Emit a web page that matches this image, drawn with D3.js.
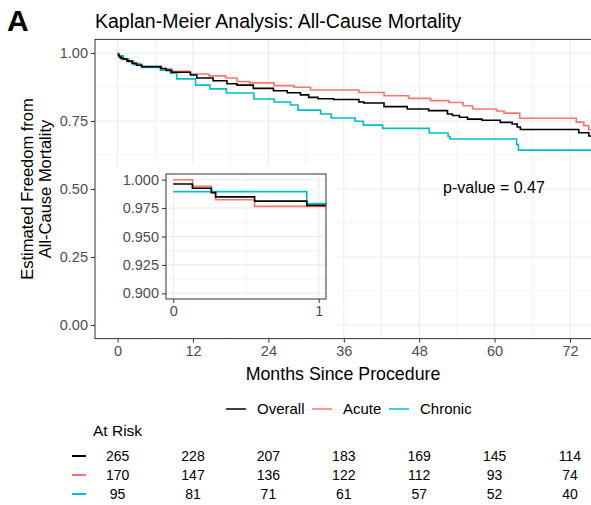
<!DOCTYPE html>
<html><head><meta charset="utf-8">
<script src="https://cdn.jsdelivr.net/npm/d3@7/dist/d3.min.js"></script>
<style>body{margin:0;background:#fff;} svg{display:block;font-family:"Liberation Sans",Arial,sans-serif;}</style>
</head><body>
<script>
// ---- data ----
const seriesNames = ["Overall", "Acute", "Chronic"];
const seriesColors = ["#000000", "#F8766D", "#00BFC4"];
const xTicks = [0, 12, 24, 36, 48, 60, 72];
const yTicks = [0, 0.25, 0.5, 0.75, 1.0];
const insetYTicks = [0.900, 0.925, 0.950, 0.975, 1.000];
const insetXTicks = [0, 1];
const overall = [[0,0.9962],[0.132,0.9925],[0.262,0.9887],[0.291,0.9849],[0.559,0.9811],[0.918,0.9774],
 [1.5,0.970],[2.3,0.962],[3.0,0.955],[3.8,0.950],[6.9,0.943],[7.7,0.936],[8.6,0.929],[11.6,0.919],[12.6,0.908],
 [15.2,0.898],[17.4,0.887],[19.0,0.882],[21.6,0.870],[24.8,0.861],[27.0,0.854],[29.1,0.846],[30.4,0.837],
 [31.9,0.832],[34.4,0.829],[38.4,0.820],[39.2,0.816],[42.4,0.803],[46.1,0.794],[49.5,0.788],[52.5,0.776],
 [53.3,0.770],[54.4,0.764],[55.7,0.757],[58.0,0.753],[60.9,0.745],[62.8,0.739],[63.6,0.728],[64.1,0.719],
 [73.4,0.707],[75.0,0.695],[76,0.695]];
const acute = [[0,1.0],[0.132,0.9941],[0.262,0.9882],[0.291,0.9824],[0.559,0.9765],
 [1.8,0.970],[2.6,0.962],[3.5,0.955],[3.9,0.949],[7.0,0.942],[8.6,0.933],[11.5,0.923],[14.5,0.916],[17.2,0.908],
 [19.0,0.895],[21.0,0.890],[24.9,0.880],[28.1,0.874],[30.7,0.864],[38.4,0.855],[42.4,0.843],[46.3,0.833],
 [49.8,0.825],[52.7,0.818],[55.0,0.806],[56.5,0.794],[60.3,0.787],[61.5,0.779],[64.0,0.760],[73.0,0.746],
 [74.2,0.733],[75.0,0.718],[76,0.718]];
const chronic = [[0,0.9895],[0.918,0.9789],[1.7,0.968],[2.5,0.958],[3.9,0.947],[6.8,0.937],[8.4,0.926],
 [9.4,0.905],[12.4,0.882],[14.7,0.868],[17.3,0.853],[21.7,0.831],[24.9,0.820],[27.5,0.809],[28.7,0.790],
 [32.3,0.776],[34.0,0.761],[37.8,0.749],[39.1,0.735],[42.2,0.723],[49.6,0.706],[52.6,0.693],[52.9,0.684],
 [63.5,0.663],[63.8,0.643],[76,0.643]];
const seriesData = [overall, acute, chronic];
const atRiskOverall = [265, 228, 207, 183, 169, 145, 114];
const atRiskAcute = [170, 147, 136, 122, 112, 93, 74];
const atRiskChronic = [95, 81, 71, 61, 57, 52, 40];
const atRisk = [atRiskOverall, atRiskAcute, atRiskChronic];

// ---- layout ----
const W = 591, H = 505;
const P = {l: 95, r: 592.6, t: 39.4, b: 338.6};
const svg = d3.select("body").append("svg").attr("width", W).attr("height", H);
const x = d3.scaleLinear().domain([-3.6, 75.6]).range([P.l, P.r]);
const y = d3.scaleLinear().domain([-0.05, 1.05]).range([P.b, P.t]);
const grid = "#EBEBEB", tickCol = "#333333", labCol = "#4D4D4D";

svg.append("defs").append("clipPath").attr("id","mainclip").append("rect")
  .attr("x",P.l).attr("y",P.t).attr("width",P.r-P.l).attr("height",P.b-P.t);

// grid
const gx = svg.append("g");
const xMinor = d3.range(6, 72, 12);
gx.selectAll(".xm").data(xMinor).join("line").attr("x1",d=>x(d)).attr("x2",d=>x(d)).attr("y1",P.t).attr("y2",P.b).attr("stroke",grid).attr("stroke-width",0.6);
gx.selectAll(".xM").data(xTicks).join("line").attr("x1",d=>x(d)).attr("x2",d=>x(d)).attr("y1",P.t).attr("y2",P.b).attr("stroke",grid).attr("stroke-width",1.1);
const yMinor = [0.125, 0.375, 0.625, 0.875];
gx.selectAll(".ym").data(yMinor).join("line").attr("y1",d=>y(d)).attr("y2",d=>y(d)).attr("x1",P.l).attr("x2",P.r).attr("stroke",grid).attr("stroke-width",0.6);
gx.selectAll(".yM").data(yTicks).join("line").attr("y1",d=>y(d)).attr("y2",d=>y(d)).attr("x1",P.l).attr("x2",P.r).attr("stroke",grid).attr("stroke-width",1.1);

// curves
const line = d3.line().x(d=>x(d[0])).y(d=>y(d[1])).curve(d3.curveStepAfter);
const cg = svg.append("g").attr("clip-path","url(#mainclip)");
[1,2,0].forEach(i=>{
  cg.append("path").datum(seriesData[i]).attr("d",line).attr("fill","none").attr("stroke",seriesColors[i]).attr("stroke-width",1.6);
});

// panel border
svg.append("rect").attr("x",P.l).attr("y",P.t).attr("width",P.r-P.l).attr("height",P.b-P.t).attr("fill","none").attr("stroke",tickCol).attr("stroke-width",1);

// axes
const xAxis = d3.axisBottom(x).tickValues(xTicks).tickSize(4).tickPadding(3);
const xa = svg.append("g").attr("transform",`translate(0,${P.b})`).call(xAxis);
xa.select(".domain").remove();
xa.selectAll("line").attr("stroke",tickCol);
xa.selectAll("text").attr("fill",labCol).style("font-size","14.5px").style("font-family","Liberation Sans, Arial");
const yAxis = d3.axisLeft(y).tickValues(yTicks).tickFormat(d3.format(".2f")).tickSize(4).tickPadding(3);
const ya = svg.append("g").attr("transform",`translate(${P.l},0)`).call(yAxis);
ya.select(".domain").remove();
ya.selectAll("line").attr("stroke",tickCol);
ya.selectAll("text").attr("fill",labCol).style("font-size","14.5px").style("font-family","Liberation Sans, Arial");

// inset background (covers grid)
svg.append("rect").attr("x",99).attr("y",165).attr("width",238).attr("height",172).attr("fill","#fff");
const IP = {l:166, r:326, t:174, b:299};
const xi = d3.scaleLinear().domain([-0.05, 1.05]).range([IP.l, IP.r]);
const yi = d3.scaleLinear().domain([0.895, 1.005]).range([IP.b, IP.t]);
svg.append("defs").append("clipPath").attr("id","insetclip").append("rect")
  .attr("x",IP.l).attr("y",IP.t).attr("width",IP.r-IP.l).attr("height",IP.b-IP.t);
const ig = svg.append("g");
ig.selectAll(".iym").data([0.9125,0.9375,0.9625,0.9875]).join("line").attr("y1",d=>yi(d)).attr("y2",d=>yi(d)).attr("x1",IP.l).attr("x2",IP.r).attr("stroke",grid).attr("stroke-width",0.6);
ig.selectAll(".iyM").data(insetYTicks).join("line").attr("y1",d=>yi(d)).attr("y2",d=>yi(d)).attr("x1",IP.l).attr("x2",IP.r).attr("stroke",grid).attr("stroke-width",1.1);
ig.selectAll(".ixm").data([0.5]).join("line").attr("x1",d=>xi(d)).attr("x2",d=>xi(d)).attr("y1",IP.t).attr("y2",IP.b).attr("stroke",grid).attr("stroke-width",0.6);
ig.selectAll(".ixM").data(insetXTicks).join("line").attr("x1",d=>xi(d)).attr("x2",d=>xi(d)).attr("y1",IP.t).attr("y2",IP.b).attr("stroke",grid).attr("stroke-width",1.1);
const iline = d3.line().x(d=>xi(d[0])).y(d=>yi(d[1])).curve(d3.curveStepAfter);
const icg = svg.append("g").attr("clip-path","url(#insetclip)");
[1,2,0].forEach(i=>{
  icg.append("path").datum(seriesData[i]).attr("d",iline).attr("fill","none").attr("stroke",seriesColors[i]).attr("stroke-width",1.6);
});
svg.append("rect").attr("x",IP.l).attr("y",IP.t).attr("width",IP.r-IP.l).attr("height",IP.b-IP.t).attr("fill","none").attr("stroke",tickCol).attr("stroke-width",1);
const ixa = svg.append("g").attr("transform",`translate(0,${IP.b})`).call(d3.axisBottom(xi).tickValues(insetXTicks).tickFormat(d3.format("d")).tickSize(4).tickPadding(3));
ixa.select(".domain").remove(); ixa.selectAll("line").attr("stroke",tickCol);
ixa.selectAll("text").attr("fill",labCol).style("font-size","14.5px").style("font-family","Liberation Sans, Arial");
const iya = svg.append("g").attr("transform",`translate(${IP.l},0)`).call(d3.axisLeft(yi).tickValues(insetYTicks).tickFormat(d3.format(".3f")).tickSize(4).tickPadding(3));
iya.select(".domain").remove(); iya.selectAll("line").attr("stroke",tickCol);
iya.selectAll("text").attr("fill",labCol).style("font-size","14.5px").style("font-family","Liberation Sans, Arial");

// texts
svg.append("text").attr("x",7).attr("y",31).text("A").style("font-size","30px").style("font-weight","bold");
svg.append("text").attr("x",95).attr("y",28).text("Kaplan-Meier Analysis: All-Cause Mortality").style("font-size","19.5px").attr("fill","#000");
svg.append("text").attr("x",(P.l+591)/2).attr("y",380).attr("text-anchor","middle").text("Months Since Procedure").style("font-size","17.8px");
const yl = svg.append("text").attr("transform",`translate(0,${(P.t+P.b)/2}) rotate(-90)`).attr("text-anchor","middle").style("font-size","16.5px");
yl.append("tspan").attr("x",0).attr("y",33).text("Estimated Freedom from");
yl.append("tspan").attr("x",0).attr("y",51).text("All-Cause Mortality");
svg.append("text").attr("x",443).attr("y",193).text("p-value = 0.47").style("font-size","16px");

// legend
const legX = [226, 312, 389];
const lg = svg.append("g");
seriesNames.forEach((n,i)=>{
  lg.append("line").attr("x1",legX[i]).attr("x2",legX[i]+20).attr("y1",409).attr("y2",409).attr("stroke",seriesColors[i]).attr("stroke-width",1.5);
  lg.append("text").attr("x",legX[i]+31).attr("y",414).text(n).style("font-size","15px");
});

// at risk table
svg.append("text").attr("x",93).attr("y",436).text("At Risk").style("font-size","15.5px");
const rowY = [456, 475, 494];
atRisk.forEach((row,i)=>{
  svg.append("line").attr("x1",72).attr("x2",86).attr("y1",rowY[i]).attr("y2",rowY[i]).attr("stroke",seriesColors[i]).attr("stroke-width",2);
  svg.selectAll(null).data(row).join("text").attr("x",(d,j)=>x(xTicks[j])).attr("y",rowY[i]+5)
    .attr("text-anchor","middle").text(d=>d).style("font-size","14px");
});
</script>
</body></html>
